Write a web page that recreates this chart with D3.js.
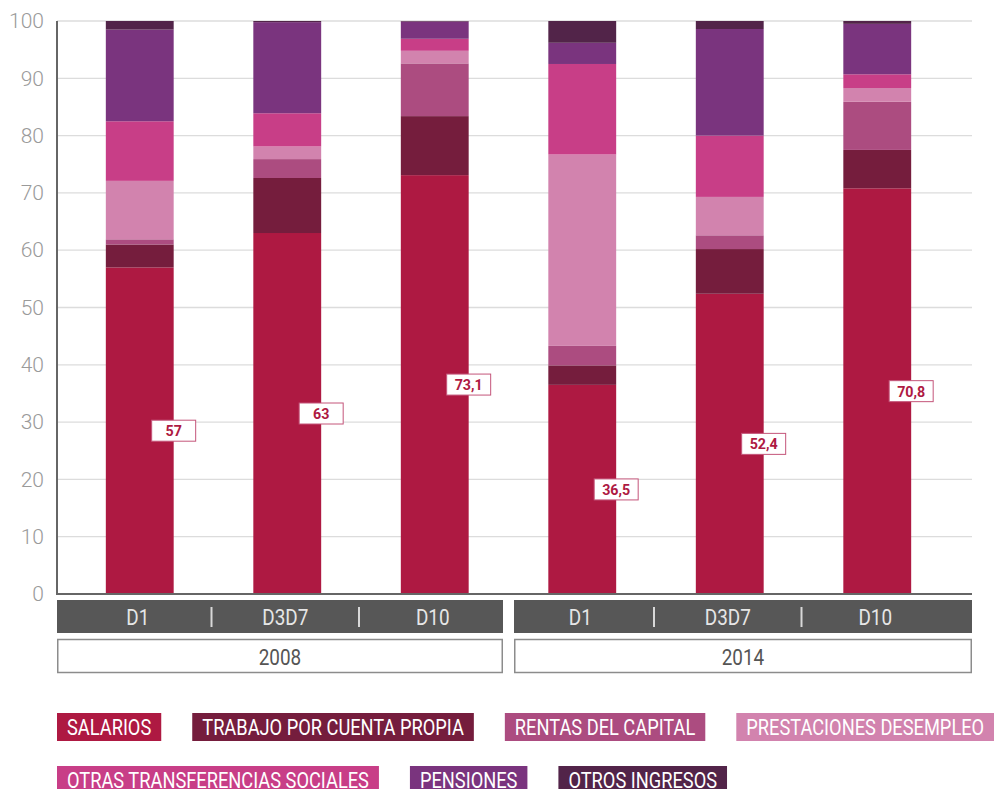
<!DOCTYPE html>
<html><head><meta charset="utf-8">
<script src="https://cdn.jsdelivr.net/npm/d3@7"></script>
<style>body{margin:0;background:#fff}svg{display:block}</style>
</head><body>
<svg id="chart" width="994" height="789"></svg>
<script>
// ---------- DATA ----------
const groups = ["2008", "2014"];
const categories = ["D1", "D3D7", "D10"];
const series = ["SALARIOS", "TRABAJO POR CUENTA PROPIA", "RENTAS DEL CAPITAL", "PRESTACIONES DESEMPLEO",
                "OTRAS TRANSFERENCIAS SOCIALES", "PENSIONES", "OTROS INGRESOS"];
const seriesColors = ["#ae1942", "#751d3d", "#ac4c80", "#d283ae", "#c83e87", "#7a347e", "#522449"];
// bar order: 2008 D1, 2008 D3D7, 2008 D10, 2014 D1, 2014 D3D7, 2014 D10
const salarios      = [57.0, 63.0, 73.1, 36.5, 52.4, 70.8];
const trabajo       = [4.0,  9.6,  10.3, 3.4,  7.8,  6.7];
const rentas        = [0.9,  3.3,  9.2,  3.4,  2.4,  8.4];
const prestaciones  = [10.2, 2.2,  2.2,  33.4, 6.7,  2.4];
const otrasTransf   = [10.4, 5.8,  2.1,  15.8, 10.7, 2.4];
const pensiones     = [16.0, 15.9, 3.0,  3.7,  18.6, 8.8];
const otrosIngresos = [1.5,  0.2,  0.1,  3.8,  1.4,  0.5];
const yTicks = [0, 10, 20, 30, 40, 50, 60, 70, 80, 90, 100];
const legendRows = [[0, 1, 2, 3], [4, 5, 6]];

// ---------- SETUP ----------
const seriesValues = [salarios, trabajo, rentas, prestaciones, otrasTransf, pensiones, otrosIngresos];
const rows = [];
groups.forEach((g, gi) => categories.forEach((c, ci) => {
  const i = gi * categories.length + ci;
  const r = { key: g + "|" + c, group: g, cat: c };
  series.forEach((s, si) => r[s] = seriesValues[si][i]);
  rows.push(r);
}));

const FONT = "Roboto, 'Noto Sans', sans-serif";
const svg = d3.select("#chart");
const plotL = 57, plotR = 972, plotT = 21, plotB = 594;

const y = d3.scaleLinear().domain([0, 100]).range([plotB, plotT]);
const x = d3.scaleBand().domain(rows.map(d => d.key)).range([66, 951])
  .paddingInner(0.54).paddingOuter(0.27);
const color = d3.scaleOrdinal().domain(series).range(seriesColors);
const fmt = d3.formatLocale({ decimal: ",", thousands: ".", grouping: [3], currency: ["", "€"] }).format("~g");

// gridlines
svg.append("g").selectAll("line").data(yTicks.filter(t => t > 0)).join("line")
  .attr("x1", plotL).attr("x2", plotR)
  .attr("y1", d => y(d)).attr("y2", d => y(d))
  .attr("stroke", "#dcdcdc").attr("stroke-width", 1.3);

// y axis labels
const yAxis = svg.append("g").attr("transform", `translate(${plotL - 13},0)`)
  .call(d3.axisLeft(y).tickValues(yTicks).tickSize(0).tickPadding(0));
yAxis.select(".domain").remove();
yAxis.selectAll("text").attr("font-family", FONT).attr("font-size", 21)
  .attr("font-weight", 300).attr("fill", "#9a9a9a");

// stacked bars
const stacked = d3.stack().keys(series)(rows);
svg.append("g").selectAll("g").data(stacked).join("g")
  .attr("fill", d => color(d.key))
  .selectAll("rect").data(d => d).join("rect")
  .attr("x", d => x(d.data.key)).attr("width", x.bandwidth())
  .attr("y", d => y(d[1])).attr("height", d => y(d[0]) - y(d[1]));

// axes lines
svg.append("line").attr("x1", plotL).attr("x2", plotL).attr("y1", plotT).attr("y2", plotB + 1)
  .attr("stroke", "#666").attr("stroke-width", 2);
svg.append("line").attr("x1", plotL - 1).attr("x2", plotR).attr("y1", plotB).attr("y2", plotB)
  .attr("stroke", "#666").attr("stroke-width", 2);

// value labels for SALARIOS
const lab = svg.append("g").selectAll("g").data(rows).join("g")
  .attr("transform", d => `translate(${x(d.key) + x.bandwidth()},${y(d[series[0]] / 2)})`);
lab.append("rect").attr("x", -22).attr("y", -10.5).attr("width", 44).attr("height", 21)
  .attr("fill", "#fff").attr("stroke", "#c4557a").attr("stroke-width", 1);
lab.append("g").attr("transform", "scale(0.92,1)").append("text")
  .attr("text-anchor", "middle").attr("dy", "0.36em")
  .attr("font-family", FONT).attr("font-weight", 700).attr("font-size", 15.5)
  .attr("fill", "#ae1942").text(d => fmt(d[series[0]]));

// condensed text helper
function ctext(sel, tx, ty, str, size, fill, anchor, sx) {
  const g = sel.append("g").attr("transform", `translate(${tx},${ty}) scale(${sx},1)`);
  return g.append("text").attr("text-anchor", anchor || "middle").attr("dy", "0.36em")
    .attr("font-family", FONT).attr("font-size", size).attr("fill", fill).text(str);
}

// group bands
const gap = 11;
const groupExt = groups.map((g, gi) => {
  const keys = rows.filter(r => r.group === g).map(r => r.key);
  let left, right;
  if (gi === 0) left = plotL; else {
    const prevLast = rows.filter(r => r.group === groups[gi - 1]).slice(-1)[0].key;
    left = (x(prevLast) + x.bandwidth() + x(keys[0])) / 2 + gap / 2;
  }
  if (gi === groups.length - 1) right = plotR; else {
    const nextFirst = rows.filter(r => r.group === groups[gi + 1])[0].key;
    right = (x(keys[keys.length - 1]) + x.bandwidth() + x(nextFirst)) / 2 - gap / 2;
  }
  return { g, keys, left, right };
});

const catG = svg.append("g");
groupExt.forEach(ge => {
  catG.append("rect").attr("x", ge.left).attr("y", 600).attr("width", ge.right - ge.left).attr("height", 33)
    .attr("fill", "#575757");
  ge.keys.forEach((k, i) => {
    const cx = x(k) + x.bandwidth() / 2;
    ctext(catG, cx - 2, 617, k.split("|")[1], 22, "#e6e6e6", "middle", 0.86);
    if (i > 0) {
      const sx = (x(ge.keys[i - 1]) + x.bandwidth() + x(k)) / 2 - 2;
      catG.append("line").attr("x1", sx).attr("x2", sx).attr("y1", 607).attr("y2", 627)
        .attr("stroke", "#d8d8d8").attr("stroke-width", 2);
    }
  });
  catG.append("rect").attr("x", ge.left + 0.75).attr("y", 639.5).attr("width", ge.right - ge.left - 1.5).attr("height", 33)
    .attr("fill", "#fff").attr("stroke", "#8c8c8c").attr("stroke-width", 1.5);
  ctext(catG, (ge.left + ge.right) / 2, 657, ge.g, 22, "#555", "middle", 0.86);
});

// legend
const leg = svg.append("g");
const legRowY = [713, 766];
const LSX = 0.83;
legendRows.forEach((row, ri) => {
  let cx = plotL;
  row.forEach(si => {
    const g = leg.append("g");
    const rect = g.append("rect").attr("y", legRowY[ri]).attr("height", 28).attr("fill", seriesColors[si]);
    const t = ctext(g, cx + 10, legRowY[ri] + 14, series[si], 22, "#fff", "start", LSX);
    const w = t.node().getComputedTextLength() * LSX + 20;
    rect.attr("x", cx).attr("width", w);
    cx += w + 31;
  });
});
</script>
</body></html>
